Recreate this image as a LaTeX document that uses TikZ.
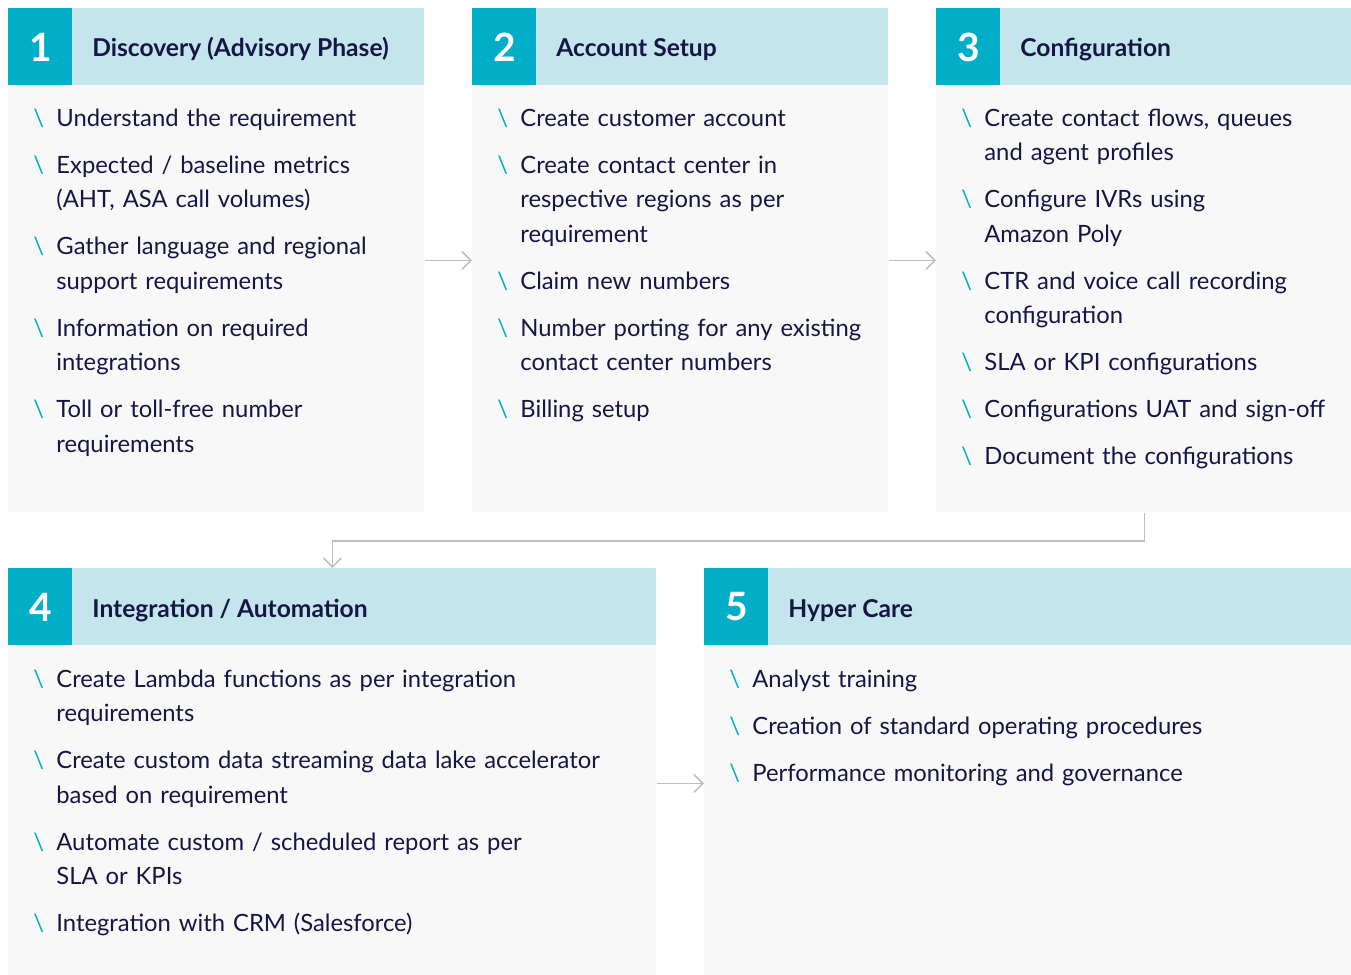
\documentclass[tikz,border=0pt]{standalone}
\usepackage{fontspec}
\setmainfont{Lato}
\usepackage{xcolor}
\definecolor{tealbox}{RGB}{0,174,199}
\definecolor{headbg}{RGB}{196,229,236}
\definecolor{bodybg}{RGB}{248,248,249}
\definecolor{navytext}{RGB}{22,22,68}
\definecolor{linkgray}{RGB}{190,190,190}
\usetikzlibrary{arrows.meta}
\newcommand{\phaseitem}[1]{\noindent\hangindent=11.5pt\hangafter=1\makebox[11.5pt][l]{\textcolor{tealbox}{\textbackslash}}#1\par}

\begin{document}
\begin{tikzpicture}[x=0.5pt,y=-0.5pt,
  panel/.style={fill=bodybg,anchor=north west,inner sep=0pt,minimum height=252pt},
  head/.style={fill=headbg,anchor=north west,inner sep=0pt,minimum height=38.5pt},
  numbox/.style={fill=tealbox,anchor=north west,inner sep=0pt,minimum width=32pt,minimum height=38.5pt,
    text=white,font=\fontsize{19.5}{19.5}\selectfont\bfseries},
  title/.style={anchor=base west,inner sep=0pt,text=navytext,font=\fontsize{12.3}{14}\selectfont\bfseries},
  itemlist/.style={anchor=base west,inner sep=0pt,text width=300pt,align=left,text=navytext,
    font=\fontsize{11.9}{17.25}\selectfont,
    execute at begin node={\setlength{\parskip}{6.25pt}\setlength{\baselineskip}{17.25pt}}},
  link/.style={draw=linkgray,line width=0.75pt,-{Straight Barb[length=4.5pt,width=9pt]}}]
\clip (0,0) rectangle (1351,975);

% phase 1
\node[panel,minimum width=208pt] (p1) at (8,8) {};
\node[head,minimum width=208pt] (h1) at (8,8) {};
\node[numbox] (n1) at (8,8) {1};
\node[title] (t1) at (92,56) {Discovery (Advisory Phase)};
\node[itemlist] (l1) at (33,126) {%
  \phaseitem{Understand the requirement}
  \phaseitem{Expected / baseline metrics\newline (AHT, ASA call volumes)}
  \phaseitem{Gather language and regional\newline support requirements}
  \phaseitem{Information on required\newline integrations}
  \phaseitem{Toll or toll-free number\newline requirements}};

% phase 2
\node[panel,minimum width=208pt] (p2) at (472,8) {};
\node[head,minimum width=208pt] (h2) at (472,8) {};
\node[numbox] (n2) at (472,8) {2};
\node[title] (t2) at (556,56) {Account Setup};
\node[itemlist] (l2) at (497,126) {%
  \phaseitem{Create customer account}
  \phaseitem{Create contact center in\newline respective regions as per\newline requirement}
  \phaseitem{Claim new numbers}
  \phaseitem{Number porting for any existing\newline contact center numbers}
  \phaseitem{Billing setup}};

% phase 3
\node[panel,minimum width=208pt] (p3) at (936,8) {};
\node[head,minimum width=208pt] (h3) at (936,8) {};
\node[numbox] (n3) at (936,8) {3};
\node[title] (t3) at (1020,56) {Configuration};
\node[itemlist] (l3) at (961,126) {%
  \phaseitem{Create contact flows, queues\newline and agent profiles}
  \phaseitem{Configure IVRs using\newline Amazon Poly}
  \phaseitem{CTR and voice call recording\newline configuration}
  \phaseitem{SLA or KPI configurations}
  \phaseitem{Configurations UAT and sign-off}
  \phaseitem{Document the configurations}};

% phase 4
\node[panel,minimum width=324pt,minimum height=215pt] (p4) at (8,568) {};
\node[head,minimum width=324pt] (h4) at (8,568) {};
\node[numbox] (n4) at (8,568) {4};
\node[title] (t4) at (92,617) {Integration / Automation};
\node[itemlist] (l4) at (33,687) {%
  \phaseitem{Create Lambda functions as per integration\newline requirements}
  \phaseitem{Create custom data streaming data lake accelerator\newline based on requirement}
  \phaseitem{Automate custom / scheduled report as per\newline SLA or KPIs}
  \phaseitem{Integration with CRM (Salesforce)}};

% phase 5
\node[panel,minimum width=324pt,minimum height=215pt] (p5) at (704,568) {};
\node[head,minimum width=324pt] (h5) at (704,568) {};
\node[numbox] (n5) at (704,568) {5};
\node[title] (t5) at (788,617) {Hyper Care};
\node[itemlist] (l5) at (729,687) {%
  \phaseitem{Analyst training}
  \phaseitem{Creation of standard operating procedures}
  \phaseitem{Performance monitoring and governance}};

% connectors
\draw[link] (p1.east) -- (p2.west);
\draw[link] (p2.east) -- (p3.west);
\draw[link] (p3.south) -- ++(0,28) -| (p4.north);
\draw[link] (p4.east) -- (p5.west);
\end{tikzpicture}
\end{document}
